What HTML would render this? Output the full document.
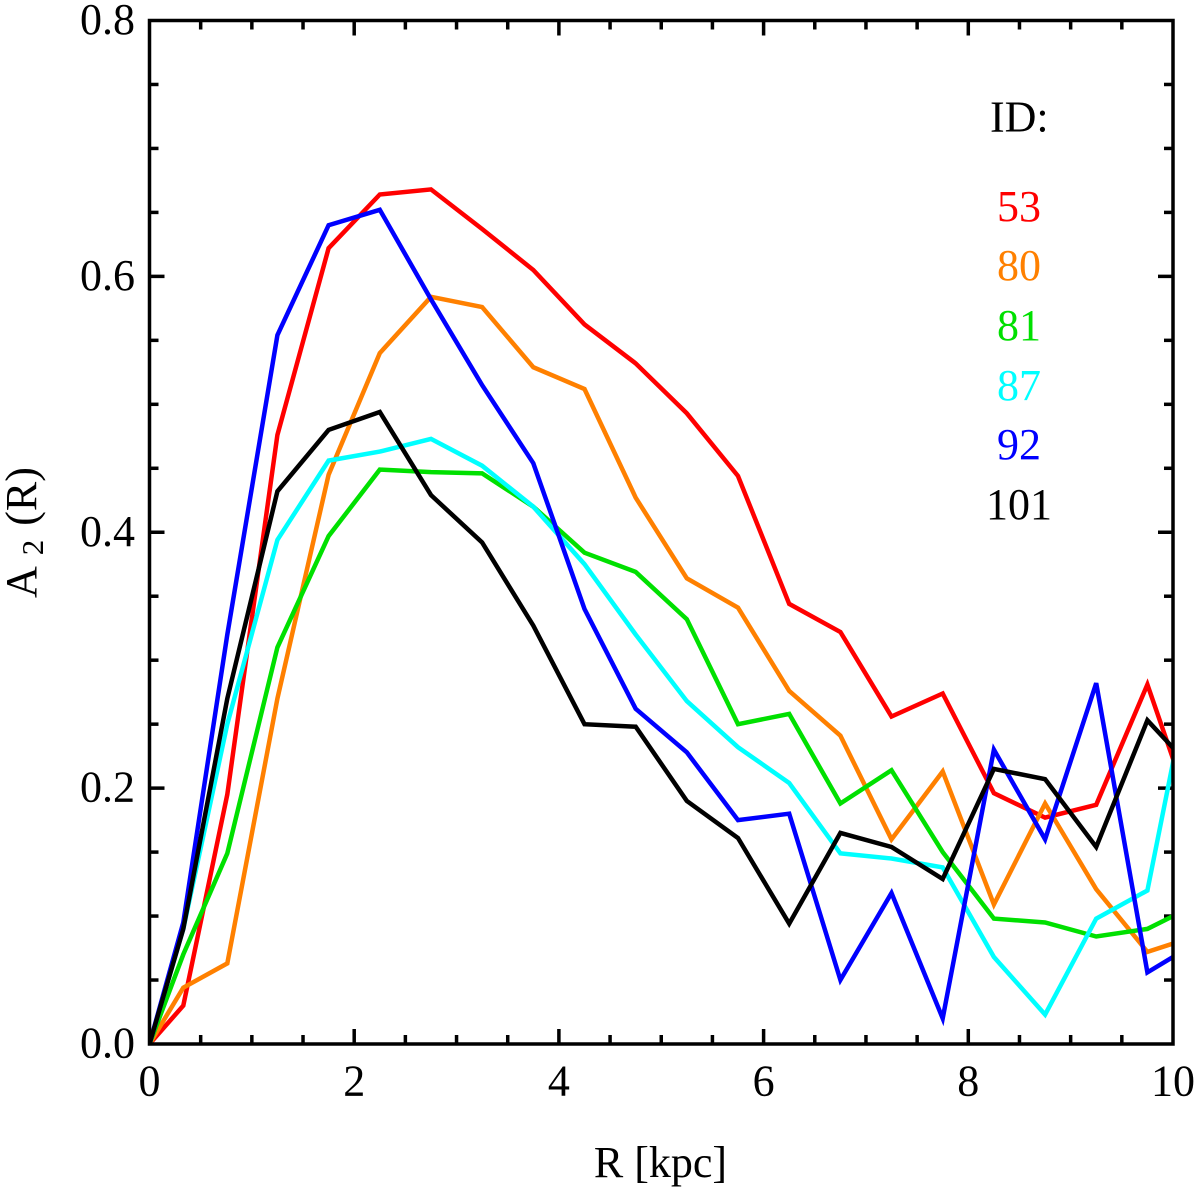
<!DOCTYPE html>
<html lang="en">
<head>
<meta charset="utf-8">
<title>A2(R) profiles</title>
<style>
html,body{margin:0;padding:0;background:#fff;}
svg{display:block;}
text{font-family:"Liberation Serif",serif;fill:#000;}
</style>
</head>
<body>
<svg id="chart" xmlns="http://www.w3.org/2000/svg" width="1200" height="1188" viewBox="0 0 1200 1188">
  <defs><clipPath id="plot-clip"><rect x="149" y="20" width="1025" height="1025"/></clipPath></defs>
  <g id="ticks"></g>
  <g id="series" clip-path="url(#plot-clip)"></g>
  <rect x="149.5" y="20.5" width="1023.5" height="1023.5" fill="none" stroke="#000" stroke-width="3.5"/>
  <g id="tick-labels"></g>
  <text x="660.5" y="1177" font-size="44" text-anchor="middle">R [kpc]</text>
  <text transform="translate(36,598) rotate(-90)" font-size="44">A<tspan font-size="31" dx="11" dy="7">2</tspan><tspan dx="14" dy="-7">(R)</tspan></text>
  <g id="legend">
    <text x="990" y="131.5" font-size="44">ID:</text>
    <text x="1019" y="221" font-size="44" text-anchor="middle" style="fill:#ff0000">53</text>
    <text x="1019" y="280" font-size="44" text-anchor="middle" style="fill:#ff8000">80</text>
    <text x="1019" y="340" font-size="44" text-anchor="middle" style="fill:#00e000">81</text>
    <text x="1019" y="400" font-size="44" text-anchor="middle" style="fill:#00ffff">87</text>
    <text x="1019" y="459" font-size="44" text-anchor="middle" style="fill:#0000ff">92</text>
    <text x="1019" y="519" font-size="44" text-anchor="middle" style="fill:#000000">101</text>
  </g>
</svg>
<script>
const radii = [0,0.33,0.76,1.25,1.75,2.25,2.75,3.25,3.75,4.25,4.75,5.25,5.75,6.25,6.75,7.25,7.75,8.25,8.75,9.25,9.75,10.25];
const values53 = [0,0.03,0.195,0.476,0.622,0.664,0.668,0.637,0.605,0.5625,0.532,0.493,0.444,0.344,0.322,0.256,0.274,0.196,0.177,0.187,0.281,0.165];
const values80 = [0,0.044,0.063,0.27,0.445,0.54,0.584,0.576,0.529,0.512,0.427,0.364,0.341,0.276,0.241,0.16,0.213,0.109,0.188,0.121,0.072,0.085];
const values81 = [0,0.07,0.149,0.31,0.397,0.449,0.447,0.446,0.42,0.384,0.369,0.332,0.25,0.258,0.188,0.214,0.15,0.098,0.095,0.084,0.09,0.11];
const values87 = [0,0.09,0.25,0.394,0.456,0.463,0.473,0.452,0.42,0.375,0.32,0.268,0.232,0.204,0.149,0.145,0.138,0.068,0.023,0.098,0.12,0.32];
const values92 = [0,0.095,0.32,0.554,0.64,0.652,0.582,0.515,0.454,0.34,0.262,0.228,0.175,0.18,0.05,0.118,0.02,0.23,0.16,0.282,0.056,0.08];
const values101 = [0,0.09,0.27,0.432,0.48,0.494,0.429,0.392,0.327,0.25,0.248,0.19,0.161,0.094,0.165,0.154,0.129,0.215,0.207,0.154,0.253,0.21];
const seriesIds = ["53","80","81","87","92","101"];
const seriesValues = [values53,values80,values81,values87,values92,values101];
const seriesColors = ["#ff0000","#ff8000","#00e000","#00ffff","#0000ff","#000000"];
const xTickLabels = ["0","2","4","6","8","10"];
const yTickLabels = ["0.0","0.2","0.4","0.6","0.8"];

const NS = "http://www.w3.org/2000/svg";
const X0 = 149.5, X1 = 1173, Y0 = 1044, Y1 = 20.5;
const XMAX = 10, YMAX = 0.8;
function xScale(v){ return X0 + (X1 - X0) * v / XMAX; }
function yScale(v){ return Y0 - (Y0 - Y1) * v / YMAX; }

const ticks = document.getElementById("ticks");
const labels = document.getElementById("tick-labels");
const seriesGroup = document.getElementById("series");

function tick(x1,y1,x2,y2){
  const l = document.createElementNS(NS,"line");
  l.setAttribute("x1",x1);
  l.setAttribute("y1",y1);
  l.setAttribute("x2",x2);
  l.setAttribute("y2",y2);
  l.setAttribute("stroke","#000");
  l.setAttribute("stroke-width","3.5");
  
  
  ticks.appendChild(l);
}
for(let i=1;i<20;i++){
  const v=i*0.5, x=xScale(v), len=(i%4===0)?15:9;
  tick(x,Y0,x,Y0-len);
  tick(x,Y1,x,Y1+len);
}
for(let i=1;i<16;i++){
  const v=i*0.05, y=yScale(v), len=(i%4===0)?15:9;
  tick(X0,y,X0+len,y);
  tick(X1,y,X1-len,y);
}
xTickLabels.forEach(function(s){
  const t=document.createElementNS(NS,"text");
  t.setAttribute("x",xScale(parseFloat(s)));
  t.setAttribute("y",1095.5);
  t.setAttribute("font-size","44");
  t.setAttribute("text-anchor","middle");
  
  
  t.textContent=s;
  labels.appendChild(t);
});
yTickLabels.forEach(function(s){
  const t=document.createElementNS(NS,"text");
  t.setAttribute("x",135);
  t.setAttribute("y",yScale(parseFloat(s))+13.5);
  t.setAttribute("font-size","44");
  t.setAttribute("text-anchor","end");
  
  
  t.textContent=s;
  labels.appendChild(t);
});
seriesValues.forEach(function(vals,k){
  const p=document.createElementNS(NS,"polyline");
  p.setAttribute("points",vals.map(function(v,i){return xScale(radii[i]).toFixed(1)+","+yScale(v).toFixed(1);}).join(" "));
  p.setAttribute("fill","none");
  p.setAttribute("stroke",seriesColors[k]);
  p.setAttribute("stroke-width","4.5");
  p.setAttribute("stroke-linejoin","miter");
  
  
  seriesGroup.appendChild(p);
});
</script>
</body>
</html>
